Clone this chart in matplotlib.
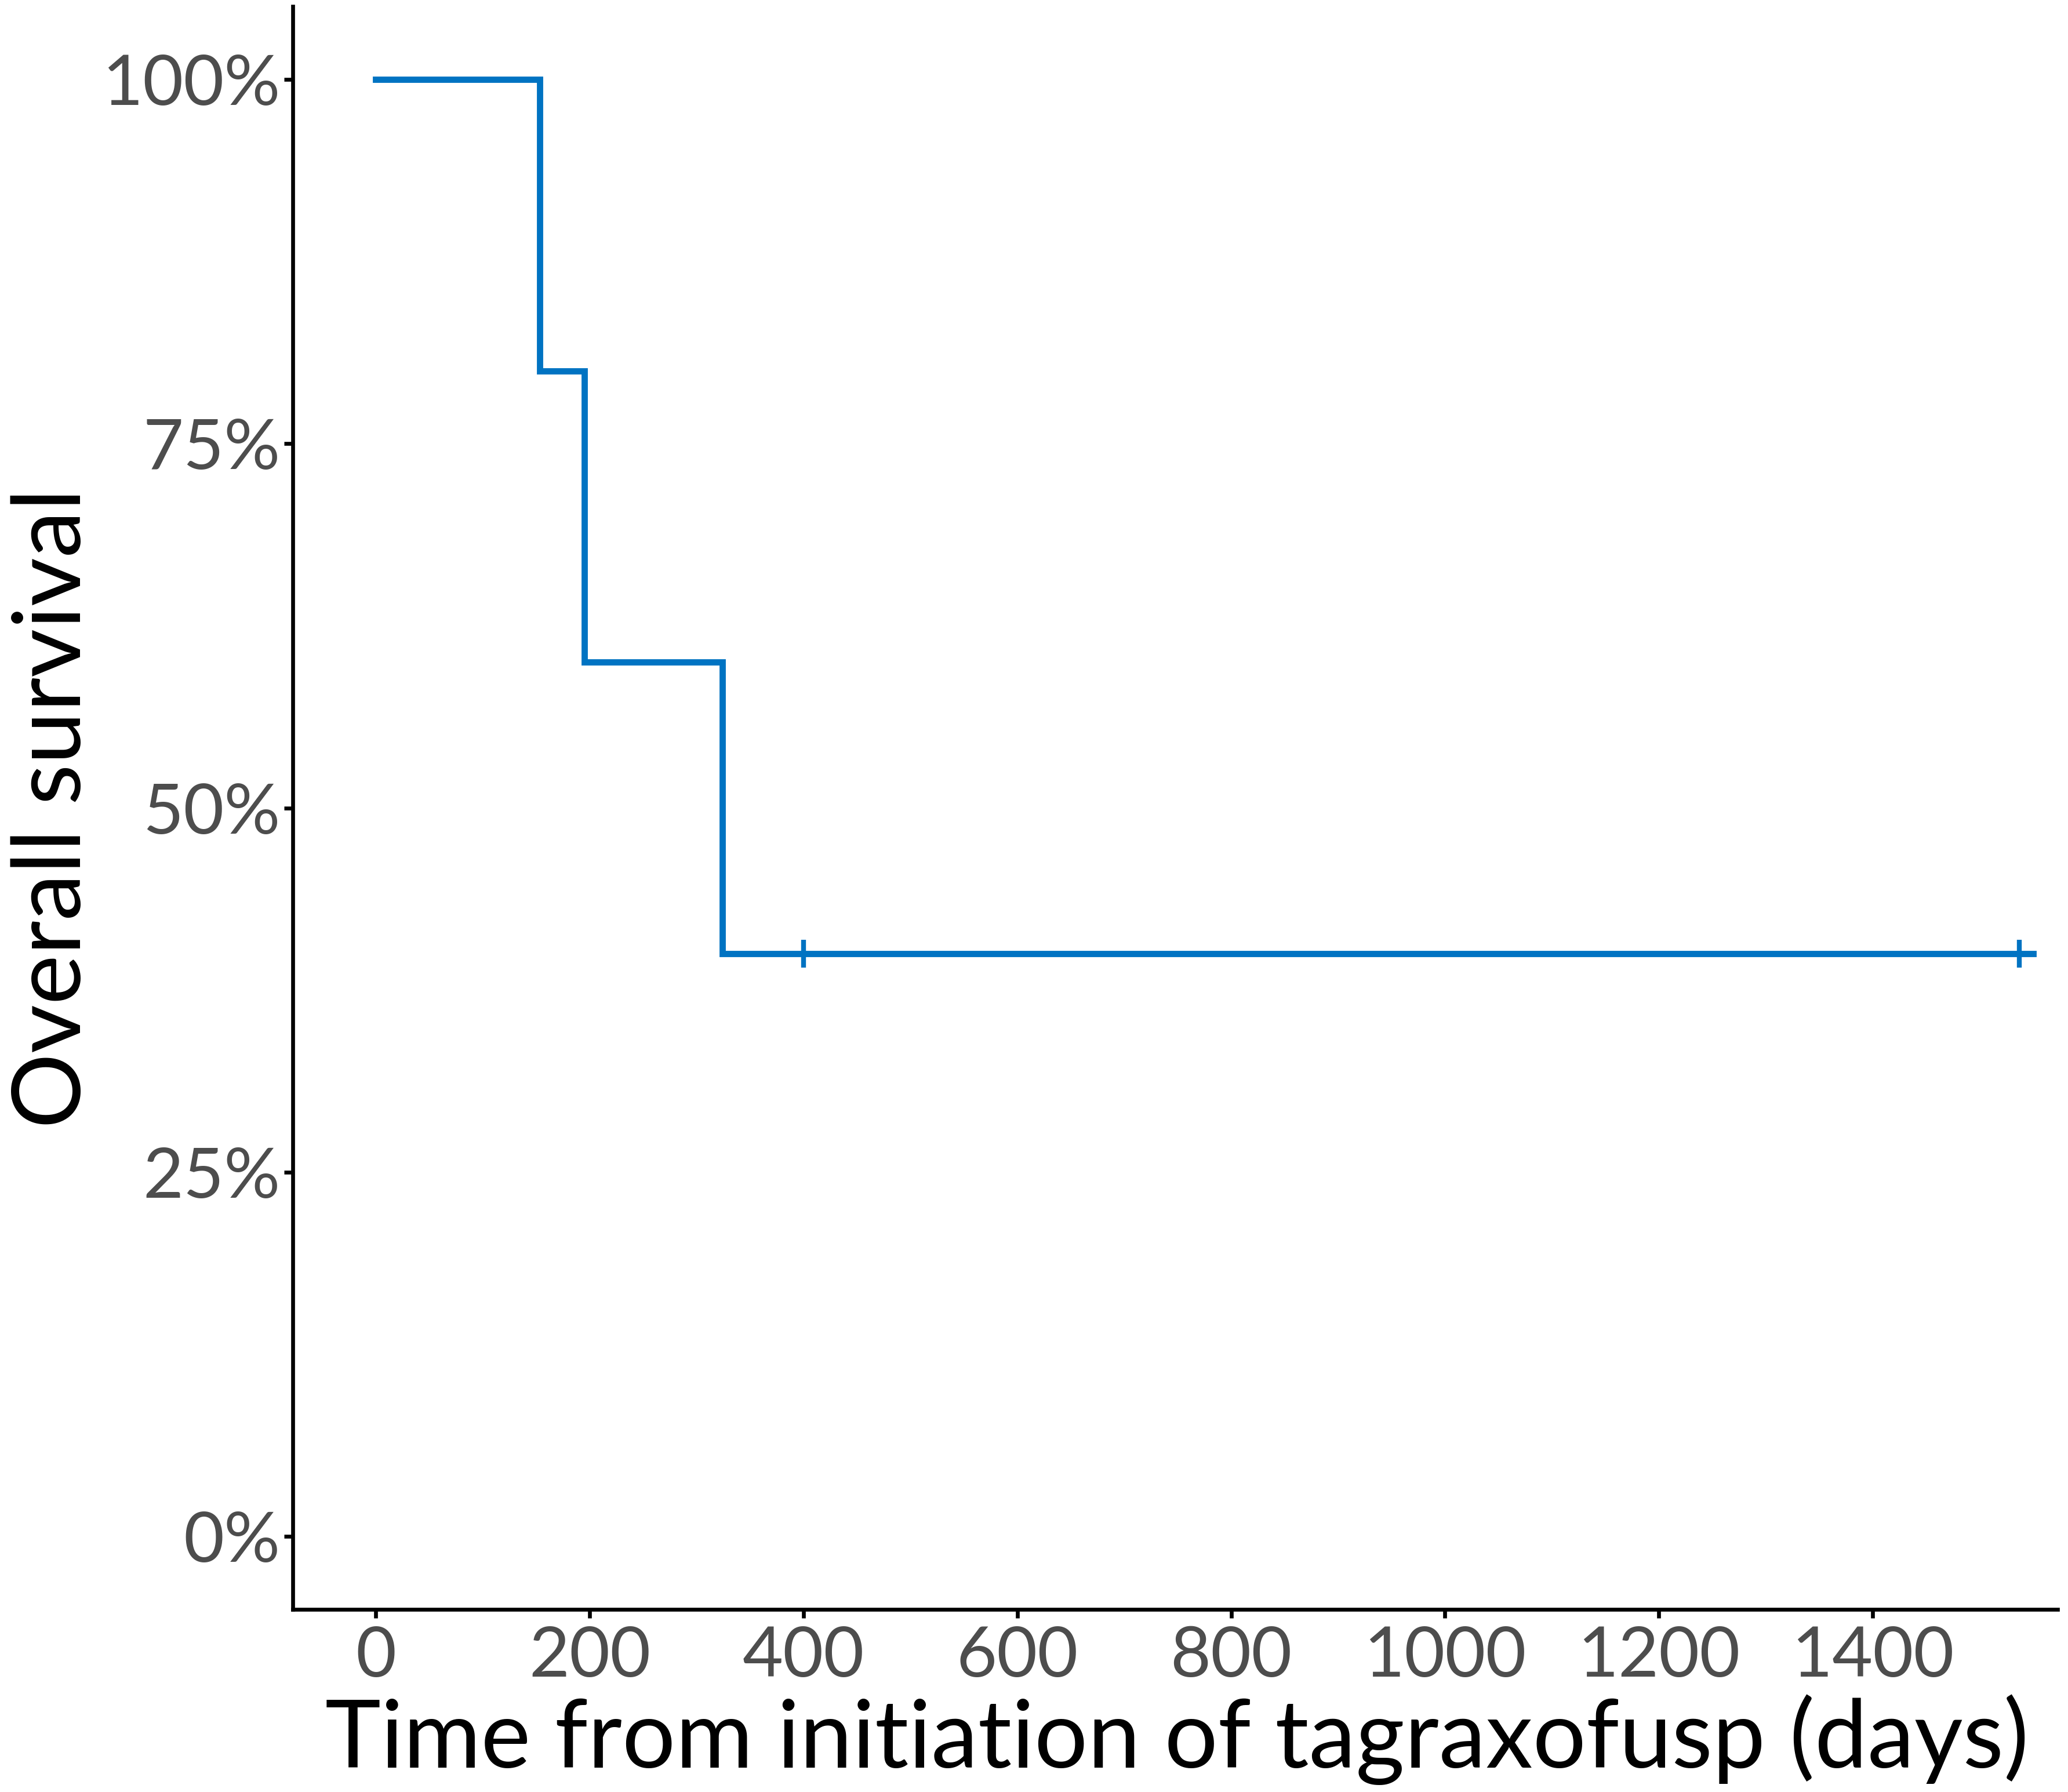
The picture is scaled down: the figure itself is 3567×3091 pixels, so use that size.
import numpy as np
import matplotlib
matplotlib.use("Agg")
import matplotlib.pyplot as plt
from matplotlib.ticker import FixedLocator, FuncFormatter

# Kaplan-Meier step curve (days, survival fraction)
times = [0, 153, 195, 324, 1550]
surv = [1.0, 0.8, 0.6, 0.4, 0.4]

# censored observations
censor_times = [400, 1537]
censor_surv = [0.4, 0.4]

x_ticks = [0, 200, 400, 600, 800, 1000, 1200, 1400]
y_ticks = [0.0, 0.25, 0.5, 0.75, 1.0]

blue = "#0073C2"
plt.rcParams["font.family"] = ["Lato", "DejaVu Sans"]

fig = plt.figure(figsize=(3567 / 300, 3091 / 300), dpi=300)
ax = fig.add_axes([0.1416, 0.1019, 0.8534, 0.8945])

ax.step(times, surv, where="post", color=blue, lw=2.6, solid_joinstyle="miter")
ax.plot(censor_times, censor_surv, linestyle="none", marker="|", ms=11.5,
        mew=2.0, color=blue)

ax.set_xlim(-77.7, 1573)
ax.set_ylim(-0.05, 1.05)

ax.xaxis.set_major_locator(FixedLocator(x_ticks))
ax.yaxis.set_major_locator(FixedLocator(y_ticks))
ax.yaxis.set_major_formatter(FuncFormatter(lambda v, p: f"{v * 100:.0f}%"))

for side in ["top", "right"]:
    ax.spines[side].set_visible(False)
for side in ["left", "bottom"]:
    ax.spines[side].set_linewidth(1.6)

ax.tick_params(axis="both", length=3.6, width=1.6, labelsize=29,
               labelcolor="#4D4D4D", pad=3)
ax.tick_params(axis="y", pad=1.5)

ax.set_xlabel("Time from initiation of tagraxofusp (days)", fontsize=39)
ax.set_ylabel("Overall survival", fontsize=39)
ax.xaxis.set_label_coords(0.501, -0.053)
ax.yaxis.set_label_coords(-0.111, 0.5)

fig.savefig("out.png", dpi=300)
